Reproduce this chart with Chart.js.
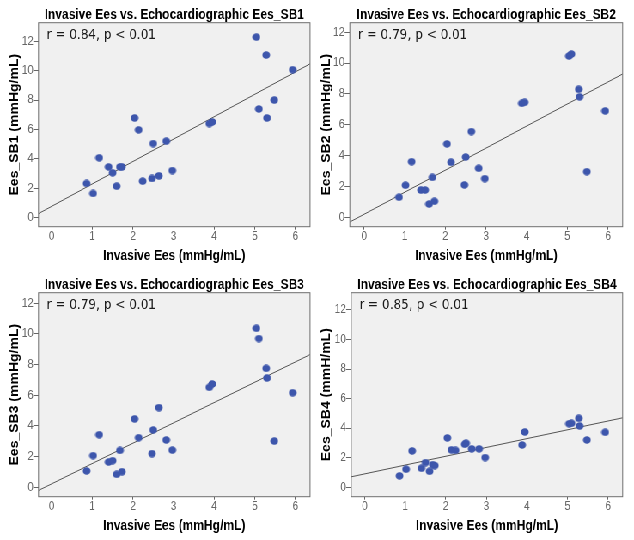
<!DOCTYPE html>
<html>
<head>
<meta charset="utf-8">
<script src="https://cdn.jsdelivr.net/npm/chart.js@4.4.1/dist/chart.umd.min.js"></script>
<style>
  html, body { margin: 0; padding: 0; background: #fff; overflow: hidden; }
  /* the source figure is squeezed sideways, so draw wide and squeeze */
  #wrap { position: absolute; left: 0; top: 0; width: 738px; height: 540px; transform: scaleX(0.85908); transform-origin: 0 0; }
  #wrap canvas { position: absolute; }
</style>
</head>
<body>
<div id="wrap">
  <canvas id="sb1" width="369" height="270" style="left:0;top:0"></canvas>
  <canvas id="sb2" width="369" height="270" style="left:369px;top:0"></canvas>
  <canvas id="sb3" width="369" height="270" style="left:0;top:270px"></canvas>
  <canvas id="sb4" width="369" height="270" style="left:369px;top:270px"></canvas>
</div>
<script>
// invasive Ees (x), same patients in every panel
const invasiveEes = [0.86, 1.02, 1.17, 1.40, 1.50, 1.60, 1.68, 1.73, 2.04, 2.14, 2.24, 2.47,
                     2.50, 2.64, 2.82, 2.97, 3.88, 3.95, 5.04, 5.10, 5.28, 5.30, 5.48, 5.93];

// echo Ees per method (null = not visible in the figure)
const eesSB1 = [2.33, 1.65, 4.08, 3.46, 3.06, 2.15, 3.46, 3.46, 6.79, 5.98, 2.49, 2.67,
                5.05, 2.85, 5.21, 3.21, 6.41, 6.52, 12.29, 7.40, 11.07, 6.79, 8.01, 10.07];
const eesSB2 = [1.30, 2.08, 3.61, 1.77, 1.77, 0.86, 2.59, 1.04, 4.76, 3.57, null, 2.10,
                3.91, 5.56, 3.18, 2.51, 7.39, 7.46, 10.46, 10.59, 8.30, 7.81, 2.96, 6.90];
const eesSB3 = [1.07, 2.07, 3.43, 1.65, 1.74, 0.85, 2.41, 1.02, 4.46, 3.24, null, 2.20,
                3.74, 5.20, 3.09, 2.43, 6.52, 6.74, 10.37, 9.70, 7.76, 7.13, 3.02, 6.17];
const eesSB4 = [0.77, 1.22, 2.46, 1.29, 1.67, 1.08, 1.53, 1.47, 3.34, 2.53, 2.50, 2.91,
                2.98, 2.60, 2.60, 2.01, 2.86, 3.74, 4.30, 4.33, 4.67, 4.15, 3.20, 3.72];

const panelTitles = ["Invasive Ees vs. Echocardiographic Ees_SB1", "Invasive Ees vs. Echocardiographic Ees_SB2",
                     "Invasive Ees vs. Echocardiographic Ees_SB3", "Invasive Ees vs. Echocardiographic Ees_SB4"];
const yTitles = ["Ees_SB1 (mmHg/mL)", "Ees_SB2 (mmHg/mL)", "Ees_SB3 (mmHg/mL)", "Ees_SB4 (mmH/mL)"];
const rLabels = ["r = 0.84, p < 0.01", "r = 0.79, p < 0.01", "r = 0.79, p < 0.01", "r = 0.85, p < 0.01"];
const xTitle = "Invasive Ees (mmHg/mL)";
const xTicks = [0, 1, 2, 3, 4, 5, 6];
const yTicks = [0, 2, 4, 6, 8, 10, 12];

// per panel layout (axis width, right padding, ranges, y title offset)
const layouts = [
  { axisW: 44.8, padR: 8.1,  xMin: -0.325, xMax: 6.36, yMin: -0.61, yMax: 13.27, yTitlePad: 9 },
  { axisW: 38.2, padR: 13.2, xMin: -0.35,  xMax: 6.36, yMin: -0.61, yMax: 12.62, yTitlePad: 3.2 },
  { axisW: 44.8, padR: 8.1,  xMin: -0.325, xMax: 6.36, yMin: -0.61, yMax: 12.69, yTitlePad: 9 },
  { axisW: 39.9, padR: 13.2, xMin: -0.33,  xMax: 6.36, yMin: -0.64, yMax: 13.17, yTitlePad: 3.2 }
];

function points(ys) {
  return invasiveEes.map((x, i) => ({ x: x, y: ys[i] })).filter(p => p.y !== null);
}

// least squares fit line, from the points themselves
function fitLine(pts, x0, x1) {
  let n = pts.length, sx = 0, sy = 0;
  pts.forEach(p => { sx += p.x; sy += p.y; });
  let mx = sx / n, my = sy / n, sxy = 0, sxx = 0;
  pts.forEach(p => { sxy += (p.x - mx) * (p.y - my); sxx += (p.x - mx) * (p.x - mx); });
  let b = sxy / sxx, a = my - b * mx;
  return [{ x: x0, y: a + b * x0 }, { x: x1, y: a + b * x1 }];
}

// marker: wider than tall here so it comes out round after the squeeze
const dot = document.createElement('canvas');
dot.width = 10;
dot.height = 8;
(function () {
  const c = dot.getContext('2d');
  c.fillStyle = '#3d56ac';
  c.beginPath();
  c.ellipse(5, 4, 4.5, 3.85, 0, 0, Math.PI * 2);
  c.fill();
})();

const plotFrame = {
  id: 'plotFrame',
  beforeDraw(chart) {
    const a = chart.chartArea, ctx = chart.ctx;
    ctx.save();
    ctx.fillStyle = '#f0f0f0';
    ctx.fillRect(a.left, a.top, a.right - a.left, a.bottom - a.top);
    ctx.restore();
  },
  afterDraw(chart, args, opts) {
    const a = chart.chartArea, ctx = chart.ctx;
    ctx.save();
    ctx.strokeStyle = '#6e6e6e';
    ctx.lineWidth = 1;
    ctx.strokeRect(a.left, a.top, a.right - a.left, a.bottom - a.top);
    ctx.fillStyle = '#1a1a1a';
    ctx.font = '14px "DejaVu Sans"';
    ctx.textBaseline = 'middle';
    ctx.fillText(opts.note, a.left + 9.5, a.top + 12.6);
    ctx.restore();
  }
};

const allY = [eesSB1, eesSB2, eesSB3, eesSB4];
const ids = ["sb1", "sb2", "sb3", "sb4"];

ids.forEach((id, i) => {
  const L = layouts[i];
  const pts = points(allY[i]);
  new Chart(document.getElementById(id), {
    type: 'scatter',
    data: {
      datasets: [
        { type: 'line', data: fitLine(pts, L.xMin, L.xMax), borderColor: '#555', borderWidth: 1,
          pointRadius: 0, fill: false, order: 2 },
        { data: pts, pointStyle: dot, backgroundColor: '#3d56ac', borderColor: '#3d56ac',
          borderWidth: 0, pointRadius: 4, order: 1 }
      ]
    },
    options: {
      responsive: false,
      animation: false,
      events: [],
      layout: { padding: { left: 0, right: L.padR, top: 0, bottom: 0 } },
      plugins: {
        legend: { display: false },
        tooltip: { enabled: false },
        title: {
          display: true, text: panelTitles[i], fullSize: false, color: '#000',
          font: { family: 'Liberation Sans', size: 14, weight: 'bold', lineHeight: 1 },
          padding: { top: 8, bottom: 0.7 }
        },
        plotFrame: { note: rLabels[i] }
      },
      scales: {
        x: {
          type: 'linear', min: L.xMin, max: L.xMax,
          afterFit(s) { s.height = 43.3; },
          afterBuildTicks(s) { s.ticks = xTicks.map(v => ({ value: v })); },
          grid: { drawOnChartArea: false, drawTicks: true, tickLength: 3, color: '#666' },
          border: { display: false },
          ticks: { color: '#666', padding: 0, font: { family: 'Liberation Sans', size: 12 } },
          title: { display: true, text: xTitle, color: '#000',
                   font: { family: 'Liberation Sans', size: 14, weight: 'bold' },
                   padding: { top: 0, bottom: 5.6 } }
        },
        y: {
          type: 'linear', min: L.yMin, max: L.yMax,
          afterFit(s) { s.width = L.axisW; },
          afterBuildTicks(s) { s.ticks = yTicks.map(v => ({ value: v })); },
          grid: { drawOnChartArea: false, drawTicks: true, tickLength: 6, color: '#666' },
          border: { display: false },
          ticks: { color: '#666', padding: 0, font: { family: 'Liberation Sans', size: 12 } },
          title: { display: true, text: yTitles[i], color: '#000',
                   font: { family: 'Liberation Sans', size: 14, weight: 'bold' },
                   padding: { top: L.yTitlePad, bottom: 0 } }
        }
      }
    },
    plugins: [plotFrame]
  });
});
</script>
</body>
</html>
